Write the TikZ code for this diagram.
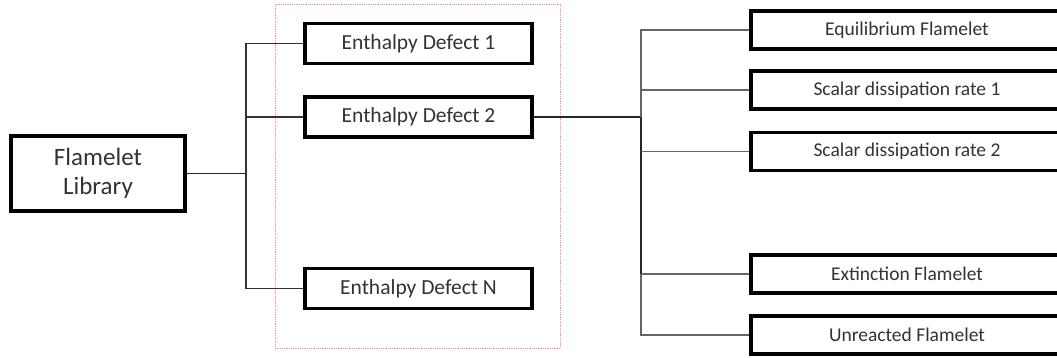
\documentclass[tikz,border=0pt]{standalone}
\usepackage{fontspec}
\setmainfont{Carlito}
\usetikzlibrary{shadows}
\begin{document}
\begin{tikzpicture}[x=1pt,y=-1pt,
  box/.style={draw=black, line width=3.3pt, fill=white, rectangle, inner sep=0pt,
    text=black!80, drop shadow={shadow xshift=1.5pt, shadow yshift=-1.5pt, opacity=0.25, fill=black}},
  libbox/.style={box, minimum width=174pt, minimum height=75pt, font=\fontsize{25}{29}\selectfont, align=center},
  defbox/.style={box, minimum width=227pt, minimum height=40pt, font=\fontsize{21.5}{24}\selectfont},
  outbox/.style={box, minimum width=312pt, minimum height=38pt, font=\fontsize{19.5}{22}\selectfont},
  conn/.style={draw=black!80, line width=1.3pt},
  connlight/.style={draw=black!60, line width=1.2pt},
  connheavy/.style={draw=black!85, line width=2pt}
]
\useasboundingbox (0,0) rectangle (1057,358);
\clip (0,0) rectangle (1057,358);
\fill[white] (0,0) rectangle (1057,358);

% dotted frame around the enthalpy-defect group
\draw[draw=red!45!white, line width=0.8pt, densely dotted] (275,4) rectangle (560,348);

% left-hand tree
\node[libbox] (lib) at (98,173.5) {Flamelet\\Library};
\node[defbox] (d1) at (418.5,43.5) {Enthalpy Defect 1};
\node[defbox] (d2) at (418.5,117) {Enthalpy Defect 2};
\node[defbox] (dN) at (418.5,288.5) {Enthalpy Defect N};

\coordinate (tl) at (246,173.5);
\draw[connheavy, line width=1.6pt] (lib.east) -- (tl);
\draw[conn] (d1.west) -| (tl) |- (dN.west);
\draw[conn] (d2.west) -- (d2.west -| tl);

% right-hand tree
\node[outbox] (e1) at (907,30) {Equilibrium Flamelet};
\node[outbox] (e2) at (907,90) {Scalar dissipation rate 1};
\node[outbox] (e3) at (907,151.5) {Scalar dissipation rate 2};
\node[outbox] (e4) at (907,274) {Extinction Flamelet};
\node[outbox] (e5) at (907,335) {Unreacted Flamelet};

\coordinate (tr) at (641,117);
\draw[connheavy] (d2.east) -- (tr);
\draw[connlight] (e1.west) -| (tr);
\draw[connheavy] (tr) -- (tr |- e4.west);
\draw[connlight] (tr |- e4.west) |- (e5.west);
\draw[connlight] (e2.west) -- (e2.west -| tr);
\draw[connlight] (e3.west) -- (e3.west -| tr);
\draw[connlight] (e4.west) -- (e4.west -| tr);
\end{tikzpicture}
\end{document}
